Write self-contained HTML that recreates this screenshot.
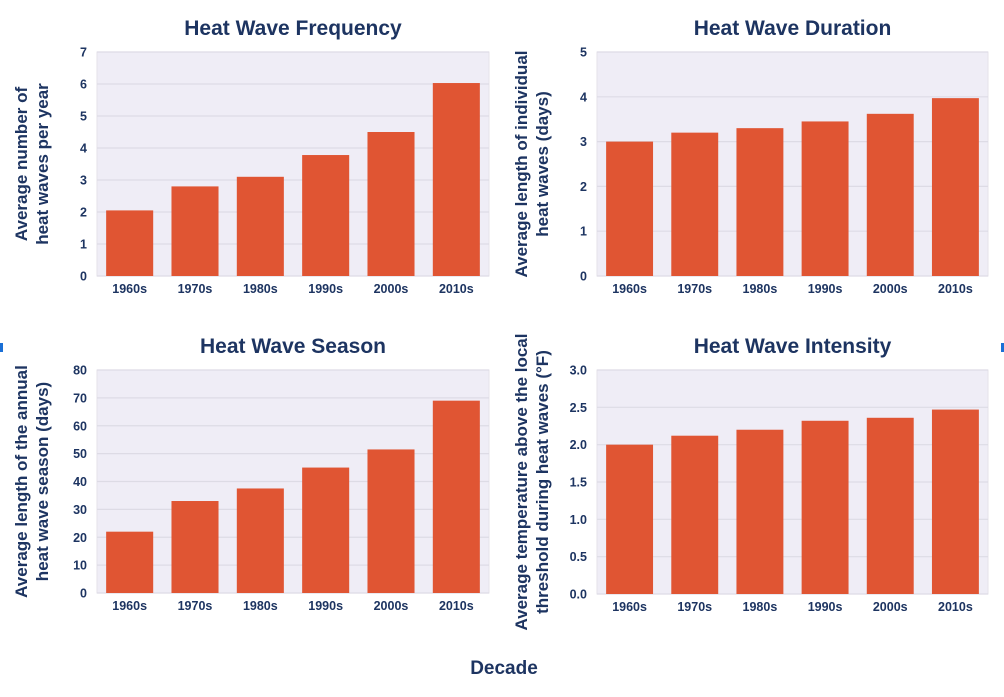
<!DOCTYPE html>
<html><head><meta charset="utf-8">
<style>
body{margin:0;background:#fff;width:1004px;height:692px;overflow:hidden;font-family:"Liberation Sans",sans-serif;}
svg text{font-family:"Liberation Sans",sans-serif;font-weight:bold;fill:#1d3461;}
</style></head>
<body>
<svg id="c" width="1004" height="692" viewBox="0 0 1004 692">
<rect x="0" y="343" width="3" height="9" fill="#1a6fd6"/>
<rect x="1001" y="343" width="3" height="9" fill="#1a6fd6"/>
<text x="504" y="674" text-anchor="middle" font-size="19">Decade</text>
</svg>
<script>
const categories = ["1960s","1970s","1980s","1990s","2000s","2010s"];
const freqValues = [2.05, 2.8, 3.1, 3.78, 4.5, 6.03];
const freqTicks = ["0","1","2","3","4","5","6","7"];
const durValues = [3.0, 3.2, 3.3, 3.45, 3.62, 3.97];
const durTicks = ["0","1","2","3","4","5"];
const seasonValues = [22, 33, 37.5, 45, 51.5, 69];
const seasonTicks = ["0","10","20","30","40","50","60","70","80"];
const intValues = [2.0, 2.12, 2.2, 2.32, 2.36, 2.47];
const intTicks = ["0.0","0.5","1.0","1.5","2.0","2.5","3.0"];

const NS = "http://www.w3.org/2000/svg";
const svg = document.getElementById("c");
function mk(tag, attrs, parent){
  const e = document.createElementNS(NS, tag);
  for (const k in attrs) e.setAttribute(k, attrs[k]);
  (parent||svg).appendChild(e);
  return e;
}
function panel(name, title, ylabels, values, ticks, x0, x1, yTop, yBot){
  const g = mk("g", {});
  
  
  const max = parseFloat(ticks[ticks.length-1]);
  const ys = v => yBot - v/max*(yBot-yTop);
  const band = (x1-x0)/categories.length;
  const xs = i => x0 + i*band;
  const bg = mk("rect", {x:x0, y:yTop, width:x1-x0, height:yBot-yTop, fill:"#efedf6", stroke:"#e4e2ea"}, g);
  
  
  ticks.forEach(t => {
    const y = ys(parseFloat(t));
    const l = mk("line", {x1:x0, x2:x1, y1:y, y2:y, stroke:"#dddbe5", "stroke-width":1.2}, g);
    
    
    const tx = mk("text", {x:x0-10, y:y+4.5, "text-anchor":"end", "font-size":12.5}, g);
    tx.textContent = t;
    
    
  });
  values.forEach((v,i) => {
    const bw = band*0.72;
    const b = mk("rect", {x:xs(i)+(band-bw)/2, y:ys(v), width:bw, height:yBot-ys(v), fill:"#e05533"}, g);
    
    
    const cl = mk("text", {x:xs(i)+band/2, y:yBot+17, "text-anchor":"middle", "font-size":12.5}, g);
    cl.textContent = categories[i];
    
    
  });
  const tt = mk("text", {x:(x0+x1)/2, y:yTop-17, "text-anchor":"middle", "font-size":21}, g);
  tt.textContent = title;
  
  
  const cy = (yTop+yBot)/2;
  ylabels.forEach((s,j) => {
    const xx = x0-70+j*21;
    const yl = mk("text", {x:xx, y:cy, "text-anchor":"middle", "font-size":17, transform:"rotate(-90 "+xx+" "+cy+")"}, g);
    yl.textContent = s;
    
    
  });
}
panel("frequency-chart","Heat Wave Frequency",["Average number of","heat waves per year"],freqValues,freqTicks,97,489,52,276);
panel("duration-chart","Heat Wave Duration",["Average length of individual","heat waves (days)"],durValues,durTicks,597,988,52,276);
panel("season-chart","Heat Wave Season",["Average length of the annual","heat wave season (days)"],seasonValues,seasonTicks,97,489,370,593);
panel("intensity-chart","Heat Wave Intensity",["Average temperature above the local","threshold during heat waves (°F)"],intValues,intTicks,597,988,370,594);
</script>
</body></html>
